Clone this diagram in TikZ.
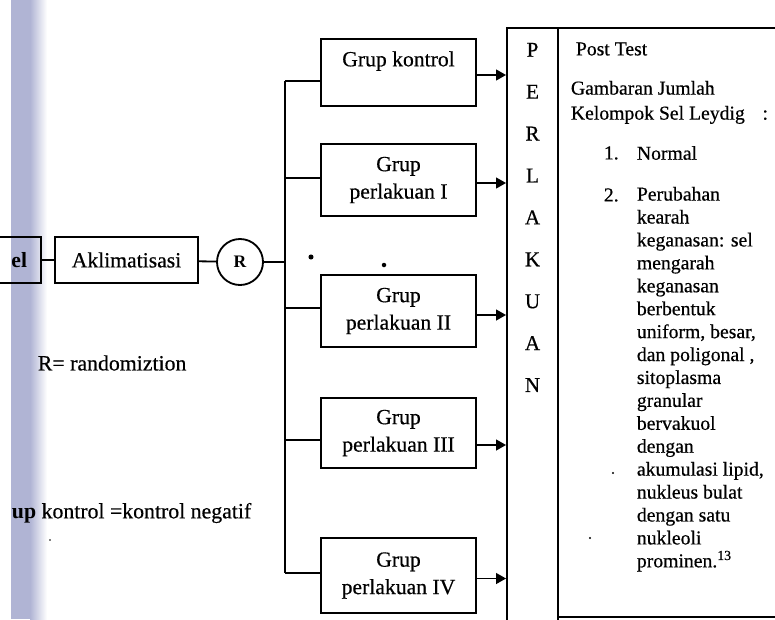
\documentclass[tikz,border=0pt]{standalone}
\usepackage{fontspec}
\setmainfont{Liberation Serif}[UprightFeatures={FakeBold=0.5}]
\usetikzlibrary{arrows.meta}
\definecolor{scanstrip}{RGB}{176,180,212}

\begin{document}
\begin{tikzpicture}[x=0.025cm, y=-0.025cm, line width=1.3pt, >={Stealth[inset=0pt,length=7pt,width=7.5pt]},
    kotak/.style={draw, rectangle, inner sep=2pt, align=center, font=\fontsize{15.4}{19.5}\selectfont},
    grup/.style={kotak, minimum width=3.875cm, minimum height=1.8cm},
    teks/.style={inner sep=0pt, anchor=west, font=\fontsize{14}{17.8}\selectfont}]
  \useasboundingbox (0,0) rectangle (775,619);
  % bayangan pinggir hasil scan
  \fill[scanstrip] (11,0) rectangle (30,619);
  \shade[left color=scanstrip, right color=white] (30,0) rectangle (47,619);

  % alur kiri
  \node[kotak, anchor=east, text width=1.6cm, align=right, inner xsep=0.35cm, minimum height=1.15cm] (hewan) at (42,260) {\textbf{el}};
  \node[kotak, minimum width=3.575cm, minimum height=1.15cm] (akl) at (126.5,260) {Aklimatisasi};
  \node[draw, circle, minimum size=1.15cm, inner sep=0pt, font=\fontsize{12.5}{15}\selectfont\bfseries] (rand) at (240,262) {R};
  \coordinate (busatas) at (285,81);
  \coordinate (busbawah) at (285,573);
  \draw (hewan) -- (akl);
  \draw (akl) -- (rand);
  \draw (rand) -- (rand -| busatas);
  \draw (busatas) -- (busbawah);

  % kelompok
  \node[grup, minimum height=1.675cm] (kontrol) at (398.5,72.5) {Grup kontrol\\~};
  \node[grup] (plkI) at (398.5,180) {Grup\\perlakuan I};
  \node[grup] (plkII) at (398.5,311) {Grup\\perlakuan II};
  \node[grup, minimum height=1.75cm] (plkIII) at (398.5,433) {Grup\\perlakuan III};
  \node[grup, minimum height=1.875cm] (plkIV) at (398.5,575.5) {Grup\\perlakuan IV};
  \foreach \g/\y in {kontrol/81, plkI/178, plkII/308, plkIII/440, plkIV/573} {
    \coordinate (cab-\g) at (285,\y);
    \draw (cab-\g) -- (cab-\g -| \g.west);
  }

  % perlakuan
  \node[draw, minimum width=1.275cm, minimum height=15.55cm, inner sep=0pt] (perl) at (532.5,339) {};
  \node[inner sep=0pt, anchor=north, align=center, font=\fontsize{15}{29.8}\selectfont] (huruf) at (532.5,42) {P\\E\\R\\L\\A\\K\\U\\A\\N};
  \foreach \g/\d in {kontrol/2.5, plkI/3, plkII/4, plkIII/12, plkIV/3}
    \draw[->] ([yshift=-\d*0.025cm]\g.east) -- ([yshift=-\d*0.025cm]\g.east -| perl.west);

  % post test
  \node[draw, minimum width=6.05cm, minimum height=14.725cm, inner sep=0pt] (hasil) at (679,322.5) {};
  \node[teks] (post) at (575,49) {Post Test};
  \node[teks, anchor=north west, align=left] (gambaran) at (570,80) {Gambaran Jumlah\\Kelompok Sel Leydig\hspace{0.9em}:};
  \node[teks] (no1) at (603,153) {1.};
  \node[teks] (normal) at (636,153) {Normal};
  \node[teks] (no2) at (603,195) {2.};
  \node[teks, anchor=north west, align=left, font=\fontsize{14}{16.3}\selectfont] (ciri) at (636,186) {Perubahan\\kearah\\keganasan: sel\\mengarah\\keganasan\\berbentuk\\uniform, besar,\\dan poligonal ,\\sitoplasma\\granular\\bervakuol\\dengan\\akumulasi lipid,\\nukleus bulat\\dengan satu\\nukleoli\\prominen.\textsuperscript{13}};

  % keterangan
  \node[teks, font=\fontsize{15.5}{18}\selectfont] (ketR) at (37,363) {R= randomiztion};
  \node[teks, font=\fontsize{15.5}{18}\selectfont] (ketK) at (11,513) {\textbf{up} kontrol =kontrol negatif};

  % bintik
  \fill (311,257) circle (1.8pt);
  \fill (384,265) circle (1.6pt);
  \fill (613,473) circle (0.8pt);
  \fill (590,538) circle (0.8pt);
  \fill (50,540) circle (0.7pt);
\end{tikzpicture}
\end{document}
